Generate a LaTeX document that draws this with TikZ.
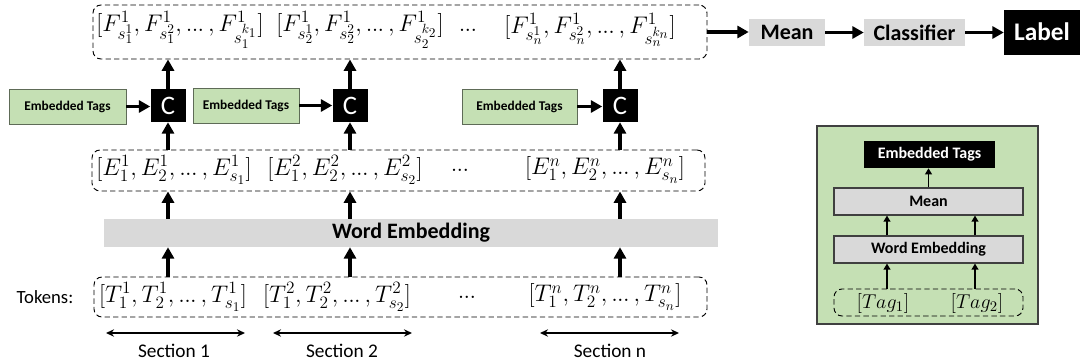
\RequirePackage{fix-cm}
\documentclass[tikz,border=0pt]{standalone}
\usepackage{fontspec}
\setmainfont{Carlito}
\usetikzlibrary{arrows.meta}
\DeclareMathSizes{18}{18}{13}{10}
\DeclareMathSizes{15}{15}{11}{8}
\definecolor{lgreen}{HTML}{C5E0B4}
\definecolor{lgrey}{HTML}{D9D9D9}
\definecolor{bord}{HTML}{5E6B57}
\def\pxu{*0.75pt}
\newcommand{\dotsx}{\mathinner{.\kern-0.5pt.\kern-0.5pt.}}
\begin{document}
\begin{tikzpicture}[x=0.75pt,y=-0.75pt,
  dbox/.style={draw, dash pattern=on 4pt off 2.4pt, line width=0.7pt, rounded corners=6pt, inner sep=0pt},
  mathtxt/.style={inner sep=0pt, font=\fontsize{18}{20}\selectfont},
  tagbox/.style={draw=bord, line width=0.6pt, fill=lgreen, inner sep=0pt, font=\fontsize{10}{12}\selectfont\bfseries},
  cbox/.style={fill=black, text=white, inner sep=0pt, minimum width=35\pxu, minimum height=33\pxu, font=\fontsize{20}{22}\selectfont},
  greybox/.style={fill=lgrey, inner sep=0pt, font=\fontsize{16.5}{18}\selectfont\bfseries},
  bigarrow/.style={line width=2.6pt, -{Triangle[length=8.5pt,width=9pt]}},
  secarrow/.style={line width=1.1pt, {Stealth[length=6pt,width=5.5pt]}-{Stealth[length=6pt,width=5.5pt]}},
  plain/.style={inner sep=0pt, font=\fontsize{14.5}{16}\selectfont},
  pbox/.style={draw=black!75, line width=0.8pt, fill=lgrey, inner sep=0pt, minimum width=189\pxu, minimum height=27\pxu, font=\fontsize{12}{14}\selectfont\bfseries},
  smallarrow/.style={line width=1.3pt, -{Triangle[length=4.5pt,width=5pt]}}
]
\useasboundingbox (0,0) rectangle (1085,364);

% ---- top feature box ----
\node[dbox, minimum width=614\pxu, minimum height=54\pxu] (F) at (400,32) {};
\node[mathtxt] (f1) at (180,30) {$[F^1_{s_1^1}, F^1_{s_1^2}, \dotsx, F^1_{s_1^{k_1}}]$};
\node[mathtxt] (f2) at (360,30) {$[F^1_{s_2^1}, F^1_{s_2^2}, \dotsx, F^1_{s_2^{k_2}}]$};
\node[mathtxt] (fd) at (468,30) {$\dotsx$};
\node[mathtxt] (fn) at (590,30) {$[F^1_{s_n^1}, F^1_{s_n^2}, \dotsx, F^1_{s_n^{k_n}}]$};

% ---- pipeline right ----
\node[greybox, minimum width=76\pxu, minimum height=27\pxu] (mean) at (787,32.5) {Mean};
\node[greybox, minimum width=101\pxu, minimum height=27\pxu] (cls) at (914.5,32.5) {Classifier};
\node[fill=black, text=white, inner sep=0pt, minimum width=76\pxu, minimum height=45\pxu, font=\fontsize{19}{21}\selectfont\bfseries] (lab) at (1042,32) {Label};
\draw[bigarrow] (F.east) -- (F.east -| mean.west);
\draw[bigarrow] (mean.east) -- (cls.west);
\draw[bigarrow] (cls.east) -- (cls.east -| lab.west);

% ---- C boxes and tags ----
\node[cbox] (c1) at (168,105.5) {C};
\node[cbox] (c2) at (350,105.5) {C};
\node[cbox] (c3) at (620,105.5) {C};
\node[tagbox, minimum width=117\pxu, minimum height=35\pxu] (t1) at (67.5,106.5) {Embedded Tags};
\node[tagbox, minimum width=106\pxu, minimum height=35\pxu] (t2) at (246,105.5) {Embedded Tags};
\node[tagbox, minimum width=115\pxu, minimum height=35\pxu] (t3) at (519.5,106.5) {Embedded Tags};
\draw[bigarrow] (t1.east) -- (t1.east -| c1.west);
\draw[bigarrow] (t2.east) -- (t2.east -| c2.west);
\draw[bigarrow] (t3.east) -- (t3.east -| c3.west);
\foreach \c in {c1,c2,c3}{\draw[bigarrow] (\c.north) -- (\c.north |- F.south);}

% ---- embeddings box ----
\node[dbox, minimum width=613\pxu, minimum height=41\pxu] (E) at (398.5,170.5) {};
\node[mathtxt] (e1) at (174,170) {$[E^1_1, E^1_2, \dotsx, E^1_{s_1}]$};
\node[mathtxt] (e2) at (345,170) {$[E^2_1, E^2_2, \dotsx, E^2_{s_2}]$};
\node[mathtxt] (ed) at (460,170) {$\dotsx$};
\node[mathtxt] (en) at (605,170) {$[E^n_1, E^n_2, \dotsx, E^n_{s_n}]$};
\foreach \c in {c1,c2,c3}{\draw[bigarrow] (\c |- E.north) -- (\c.south);}

% ---- word embedding bar ----
\node[fill=lgrey, inner sep=0pt, minimum width=614\pxu, minimum height=28\pxu, font=\fontsize{16.5}{18}\selectfont\bfseries] (WE) at (411,233) {Word Embedding};
\foreach \c in {c1,c2,c3}{\draw[bigarrow] (\c |- WE.north) -- (\c |- E.south);}

% ---- tokens box ----
\node[dbox, minimum width=613\pxu, minimum height=40\pxu] (T) at (400.5,297) {};
\node[plain, font=\fontsize{14}{16}\selectfont] (tok) at (45,297) {Tokens:};
\node[mathtxt] (tk1) at (173,297) {$[T^1_1, T^1_2, \dotsx, T^1_{s_1}]$};
\node[mathtxt] (tk2) at (337,297) {$[T^2_1, T^2_2, \dotsx, T^2_{s_2}]$};
\node[mathtxt] (tkd) at (467,297) {$\dotsx$};
\node[mathtxt] (tkn) at (605,297) {$[T^n_1, T^n_2, \dotsx, T^n_{s_n}]$};
\foreach \c in {c1,c2,c3}{\draw[bigarrow] (\c |- T.north) -- (\c |- WE.south);}

% ---- sections ----
\coordinate (s1a) at (106,333); \coordinate (s1b) at (245,333);
\coordinate (s2a) at (273,333); \coordinate (s2b) at (412,333);
\coordinate (sna) at (540,333); \coordinate (snb) at (679,333);
\draw[secarrow] (s1a) -- (s1b);
\draw[secarrow] (s2a) -- (s2b);
\draw[secarrow] (sna) -- (snb);
\node[plain] (sl1) at (174,351) {Section 1};
\node[plain] (sl2) at (342,351) {Section 2};
\node[plain] (sln) at (610,351) {Section n};

% ---- right panel ----
\node[draw=black!75, line width=0.8pt, fill=lgreen, minimum width=221\pxu, minimum height=198\pxu, inner sep=0pt] (P) at (927.5,225) {};
\node[fill=black, text=white, inner sep=0pt, minimum width=131\pxu, minimum height=27\pxu, font=\fontsize{12}{14}\selectfont\bfseries] (pet) at (929.5,154.5) {Embedded Tags};
\node[pbox] (pm) at (928.5,201.5) {Mean};
\node[pbox] (pw) at (928.5,249.5) {Word Embedding};
\node[dbox, minimum width=189\pxu, minimum height=27\pxu] (pt) at (928.5,302.5) {};
\node[inner sep=0pt, font=\fontsize{15}{16}\selectfont] (tg1) at (883,303) {$[Tag_1]$};
\node[inner sep=0pt, font=\fontsize{15}{16}\selectfont] (tg2) at (977,303) {$[Tag_2]$};
\coordinate (ax1) at (887,0); \coordinate (ax2) at (975,0);
\draw[smallarrow] (pm.north) -- (pm.north |- pet.south);
\draw[smallarrow] (ax1 |- pw.north) -- (ax1 |- pm.south);
\draw[smallarrow] (ax2 |- pw.north) -- (ax2 |- pm.south);
\draw[smallarrow] (ax1 |- pt.north) -- (ax1 |- pw.south);
\draw[smallarrow] (ax2 |- pt.north) -- (ax2 |- pw.south);
\end{tikzpicture}
\end{document}
